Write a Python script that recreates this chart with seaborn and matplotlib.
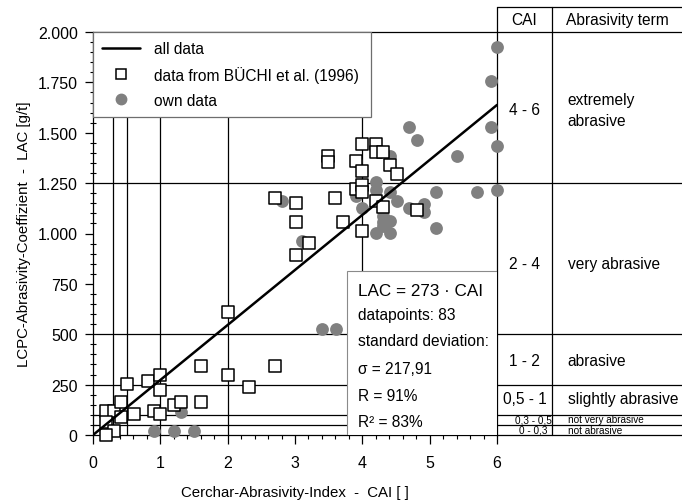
import numpy as np
import pandas as pd
import seaborn as sns
import matplotlib.pyplot as plt
from matplotlib.lines import Line2D
from matplotlib.patches import Rectangle

# data
buechi_cai = [0.20, 0.31, 0.41, 0.41, 0.19, 0.31, 0.19, 0.61, 0.51, 0.81, 1.0, 1.0, 0.91, 1.0,
              1.2, 1.3, 1.6, 1.6, 2.0, 2.31, 2.71, 2.0,
              2.70, 3.01, 3.60, 3.01, 3.71, 3.21, 3.01, 3.49, 3.49,
              4.0, 4.21, 4.21, 4.31, 3.91, 4.41, 4.51, 4.0, 3.91, 4.0, 4.0, 4.20, 4.31, 4.81, 4.0]
buechi_lac = [121, 121, 162, 91, 66, 20, 0, 104, 253, 270, 298, 225, 121, 104,
              149, 165, 165, 344, 298, 240, 344, 610,
              1176, 1150, 1176, 1059, 1059, 953, 895, 1385, 1355,
              1444, 1444, 1403, 1403, 1358, 1341, 1295, 1312, 1221, 1241, 1204, 1160, 1133, 1117, 1014]

own_cai = [0.91, 1.2, 1.5, 1.3, 2.80, 3.11, 3.40, 3.61,
           4.70, 4.81, 5.91, 6.0, 5.40, 4.41, 3.91, 4.20, 4.20, 4.41, 3.91, 4.51, 5.10, 5.70, 6.0,
           4.0, 4.70, 4.91, 4.91, 4.30, 4.41, 4.30, 4.30, 4.20, 4.41, 5.10, 6.0, 5.91]
own_lac = [21, 21, 21, 112, 1163, 964, 526, 526,
           1527, 1464, 1527, 1436, 1386, 1386, 1361, 1257, 1217, 1207, 1184, 1163, 1204, 1204, 1216,
           1125, 1125, 1146, 1105, 1085, 1064, 1056, 1039, 1002, 1002, 1026, 1924, 1758]

fit_cai = [0, 6]
fit_lac = [0, 1638]

lac_limits = [50, 100, 250, 500, 1250]
cai_limits = [0.3, 0.5, 1, 2, 4]

yticks = [0, 250, 500, 750, 1000, 1250, 1500, 1750, 2000]
ytick_labels = ["0", "250", "500", "750", "1.000", "1.250", "1.500", "1.750", "2.000"]

cai_classes = ["4 - 6", "2 - 4", "1 - 2", "0,5 - 1", "0,3 - 0,5", "0 - 0,3"]
class_terms = ["extremely\nabrasive", "very abrasive", "abrasive", "slightly abrasive",
               "not very abrasive", "not abrasive"]
class_y = [1613, 849, 370, 179, 78, 26]

stats_lines = ["datapoints: 83", "standard deviation:", "\u03c3 = 217,91", "R = 91%", "R\u00b2 = 83%"]

sns.set_style("white")
plt.rcParams['font.family'] = ['Liberation Sans', 'DejaVu Sans']
plt.rcParams['text.color'] = 'black'
plt.rcParams['axes.labelcolor'] = 'black'
plt.rcParams['xtick.color'] = 'black'
plt.rcParams['ytick.color'] = 'black'

fig = plt.figure(figsize=(6.82, 5.02), dpi=100)
ax = fig.add_axes([93 / 682, 66 / 502, 404 / 682, 403 / 502])

X_END = 8.76   # right edge of the classification table (data units)
Y_TOP = 2124   # top of table header
X_COL = 6.82   # divider between the table columns

# grid of class limits
for yl in lac_limits:
    ax.plot([0, X_END], [yl, yl], color='black', lw=0.9, zorder=1, clip_on=False)
for xl in cai_limits:
    ax.plot([xl, xl], [0, 2000], color='black', lw=0.9, zorder=1)
ax.plot([0, X_END], [2000, 2000], color='black', lw=0.9, zorder=1, clip_on=False)
ax.plot([6, X_END], [0, 0], color='black', lw=0.9, zorder=1, clip_on=False)
ax.plot([6, X_END], [Y_TOP, Y_TOP], color='black', lw=0.9, zorder=1, clip_on=False)
ax.plot([6, 6], [0, Y_TOP], color='black', lw=0.9, zorder=1, clip_on=False)
ax.plot([X_COL, X_COL], [0, Y_TOP], color='black', lw=0.9, zorder=1, clip_on=False)

sns.scatterplot(x=own_cai, y=own_lac, ax=ax, marker='o', s=85, color='#808080',
                edgecolor='#808080', linewidth=0, zorder=3, legend=False, clip_on=False)
sns.scatterplot(x=buechi_cai, y=buechi_lac, ax=ax, marker='s', s=70, color='white',
                edgecolor='black', linewidth=1.1, zorder=4, legend=False, clip_on=False)
sns.lineplot(x=fit_cai, y=fit_lac, ax=ax, color='black', lw=1.8, zorder=5)

ax.set_xlim(0, 6)
ax.set_ylim(0, 2000)
ax.set_xticks(range(7))
ax.set_xticks(np.arange(0, 6.01, 0.2), minor=True)
ax.set_yticks(yticks)
ax.set_yticklabels(ytick_labels)
ax.set_yticks(range(0, 2001, 50), minor=True)
ax.tick_params(which='both', bottom=True, left=True)
ax.tick_params(axis='x', which='major', direction='out', length=6.5, width=0.9, pad=8, labelsize=11.5)
ax.tick_params(axis='x', which='minor', direction='out', length=3, width=0.8)
ax.tick_params(axis='y', which='major', direction='out', length=6, width=0.9, pad=5, labelsize=11.5)
ax.tick_params(axis='y', which='minor', direction='inout', length=4, width=0.8)
for side in ['top', 'right']:
    ax.spines[side].set_visible(False)
for side in ['left', 'bottom']:
    ax.spines[side].set_linewidth(0.9)
    ax.spines[side].set_color('black')

ax.set_xlabel("Cerchar-Abrasivity-Index  -  CAI [ ]", fontsize=10.8, labelpad=10.5)
ax.set_ylabel("LCPC-Abrasivity-Coeffizient  -  LAC [g/t]", fontsize=10.8, labelpad=4.5)

# classification table
ax.text(6.41, 2062, "CAI", ha='center', va='center', fontsize=11.2)
ax.text(7.79, 2062, "Abrasivity term", ha='center', va='center', fontsize=11.2)
for i, (cls, term, yy) in enumerate(zip(cai_classes, class_terms, class_y)):
    small = i >= 4
    fs = 7.2 if small else 11.2
    ax.text(6.41 if not small else 6.54, yy, cls, ha='center', va='center', fontsize=fs,
            linespacing=1.5)
    ax.text(7.05, yy, term, ha='left', va='center', fontsize=fs, linespacing=1.5)

# regression statistics box
ax.add_patch(Rectangle((3.77, 0), 2.23, 814, facecolor='white', edgecolor='#8a8a8a',
                       lw=0.8, zorder=6))
ax.text(3.93, 716, "LAC = 273 \u00b7 CAI", fontsize=12.3, va='center', ha='left', zorder=7)
for txt, yy in zip(stats_lines, [600, 468, 332, 198, 66]):
    ax.text(3.93, yy, txt, fontsize=11.2, va='center', ha='left', zorder=7)

handles = [Line2D([], [], color='black', lw=1.8),
           Line2D([], [], marker='s', ls='none', markersize=7, markerfacecolor='white',
                  markeredgecolor='black', markeredgewidth=1.1),
           Line2D([], [], marker='o', ls='none', markersize=7.5, markerfacecolor='#808080',
                  markeredgecolor='#808080')]
leg = ax.legend(handles, ["all data", "data from B\u00dcCHI et al. (1996)", "own data"],
                loc='upper left', bbox_to_anchor=(0, 1, 0.688, 0), mode='expand',
                borderaxespad=0, fancybox=False, framealpha=1, edgecolor='#6e6e6e',
                fontsize=11.2, handlelength=2.4, handletextpad=0.9, labelspacing=0.62,
                borderpad=0.6)
leg.get_frame().set_linewidth(0.9)
leg.set_zorder(8)

fig.savefig("out.png", dpi=100)
